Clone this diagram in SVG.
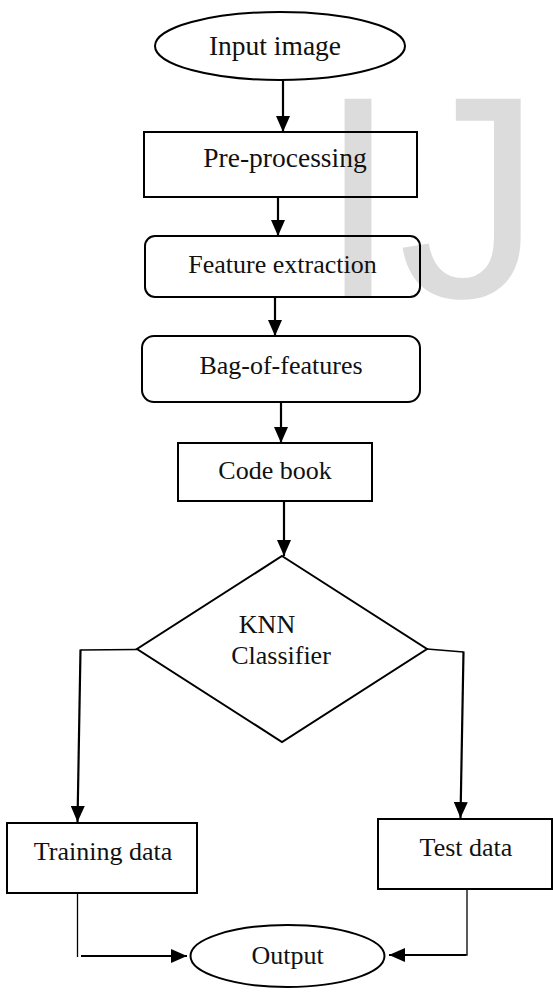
<svg xmlns="http://www.w3.org/2000/svg" width="553" height="992" viewBox="0 0 553 992">
  <style>
    .shape { fill: none; stroke: #000; stroke-width: 2; }
    .lbl { font-family: "Liberation Serif", "Times New Roman", serif; font-size: 26px; fill: #111; text-anchor: middle; }
    .conn { fill: none; stroke: #000; stroke-width: 2.2; }
    .thin { fill: none; stroke: #000; stroke-width: 1.3; }
    .wm { font-family: "Liberation Sans", Arial, sans-serif; font-size: 288px; fill: #dcdcdc; }
  </style>
  <defs>
    <marker id="arrow" markerUnits="userSpaceOnUse" markerWidth="16" markerHeight="14" viewBox="0 0 16 14" refX="16" refY="7" orient="auto">
      <path d="M0,0 L16,7 L0,14 z" fill="#000"/>
    </marker>
  </defs>
  <rect x="0" y="0" width="553" height="992" fill="#fff"/>
  <text class="wm" x="318" y="297">IJ</text>

  <g id="connectors">
    <line class="conn" x1="283" y1="80" x2="283" y2="132" marker-end="url(#arrow)"/>
    <line class="conn" x1="278" y1="197" x2="278" y2="236" marker-end="url(#arrow)"/>
    <line class="conn" x1="275" y1="297" x2="275" y2="336" marker-end="url(#arrow)"/>
    <line class="conn" x1="281" y1="402" x2="281" y2="443" marker-end="url(#arrow)"/>
    <line class="conn" x1="284" y1="501" x2="284" y2="556" marker-end="url(#arrow)"/>
    <line class="thin" x1="137" y1="649.5" x2="80.5" y2="650"/>
    <line class="conn" x1="80.5" y1="649.5" x2="77.5" y2="822" marker-end="url(#arrow)"/>
    <line class="thin" x1="427" y1="649" x2="463.5" y2="652"/>
    <line class="conn" x1="463.5" y1="651.5" x2="460.5" y2="818" marker-end="url(#arrow)"/>
    <line class="thin" x1="77.5" y1="893" x2="77.5" y2="957"/>
    <line class="conn" x1="81" y1="956" x2="187" y2="956" marker-end="url(#arrow)"/>
    <polyline class="thin" points="467,889 467,955 400,955"/>
    <line class="conn" x1="466" y1="955" x2="389" y2="955" marker-end="url(#arrow)"/>
  </g>

  <g id="input-image">
    <ellipse class="shape" cx="280" cy="46" rx="125" ry="34"/>
    <text class="lbl" x="275" y="55" style="font-size:27.5px">Input image</text>
  </g>
  <g id="pre-processing">
    <rect class="shape" x="144" y="132" width="273" height="65"/>
    <text class="lbl" x="285" y="167" style="font-size:27.5px">Pre-processing</text>
  </g>
  <g id="feature-extraction">
    <rect class="shape" x="145" y="236" width="275" height="61" rx="10" ry="10"/>
    <text class="lbl" x="282.5" y="273">Feature extraction</text>
  </g>
  <g id="bag-of-features">
    <rect class="shape" x="142" y="336" width="278" height="66" rx="12" ry="12"/>
    <text class="lbl" x="281" y="374">Bag-of-features</text>
  </g>
  <g id="code-book">
    <rect class="shape" x="178" y="443" width="194" height="58"/>
    <text class="lbl" x="275" y="479">Code book</text>
  </g>
  <g id="knn-classifier">
    <polygon class="shape" points="282,556 427,649 282,742 137,649"/>
    <text class="lbl" x="267" y="633">KNN</text>
    <text class="lbl" x="281" y="664">Classifier</text>
  </g>
  <g id="training-data">
    <rect class="shape" x="7" y="823" width="190" height="70"/>
    <text class="lbl" x="103" y="860">Training data</text>
  </g>
  <g id="test-data">
    <rect class="shape" x="378" y="819" width="174" height="70"/>
    <text class="lbl" x="466" y="856">Test data</text>
  </g>
  <g id="output">
    <ellipse class="shape" cx="287.5" cy="956" rx="97" ry="31"/>
    <text class="lbl" x="287.5" y="964">Output</text>
  </g>
</svg>
